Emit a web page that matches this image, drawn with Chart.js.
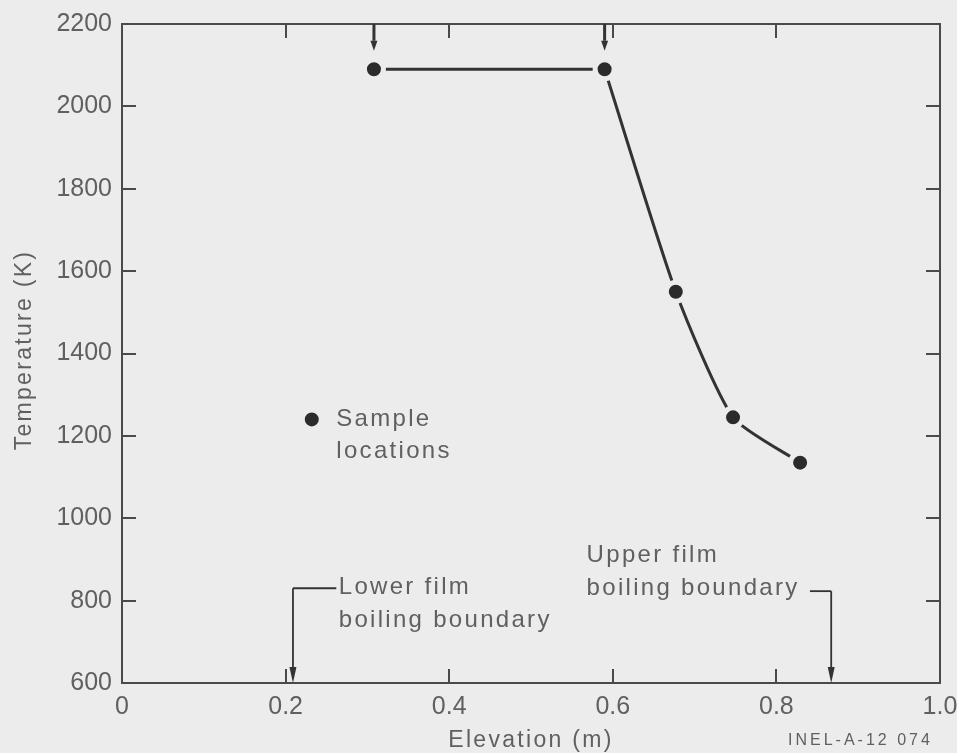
<!DOCTYPE html>
<html>
<head>
<meta charset="utf-8">
<script src="https://cdn.jsdelivr.net/npm/chart.js@4"></script>
<style>
  html, body { margin: 0; padding: 0; background: #ececec; }
  canvas { display: block; }
</style>
</head>
<body>
<canvas id="grafico" width="957" height="753"></canvas>
<script>

// DADOS
const elevacao = [0.308, 0.59, 0.677, 0.747, 0.829];      // m
const temperatura = [2090, 2090, 1550, 1245, 1135];       // K

// ponto da legenda "Sample locations"
const legendaX = [0.232];
const legendaY = [1240];

// setas do topo (em cima dos dois primeiros pontos)
const setasTopoX = [0.308, 0.59];
const setasTopoPonta = 2135;

// limites de ebulição em filme
const limiteInferiorX = 0.209;
const limiteSuperiorX = 0.867;

const ticksX = [0, 0.2, 0.4, 0.6, 0.8, 1.0];
const ticksY = [600, 800, 1000, 1200, 1400, 1600, 1800, 2000, 2200];

const corFundo = "#ececec";
const corEixo = "#4a4a4a";
const corTexto = "#606060";
const corLinha = "#333333";
const fonte = "'Liberation Sans', Arial, sans-serif";

function pares(xs, ys) {
  return xs.map((v, i) => ({ x: v, y: ys[i] }));
}

// texto com espaçamento entre letras (como na figura)
function escrever(ctx, str, px, py, tam, espaco, alinhar) {
  ctx.font = tam + "px " + fonte;
  ctx.letterSpacing = espaco + "px";
  ctx.fillStyle = corTexto;
  ctx.textAlign = alinhar || "left";
  ctx.textBaseline = "middle";
  ctx.fillText(str, px, py);
}

function seta(ctx, px, pyIni, pyPonta, larg, comp) {
  const dir = pyPonta > pyIni ? 1 : -1;
  ctx.beginPath();
  ctx.moveTo(px, pyIni);
  ctx.lineTo(px, pyPonta - dir * comp);
  ctx.stroke();
  ctx.beginPath();
  ctx.moveTo(px, pyPonta);
  ctx.lineTo(px - larg / 2, pyPonta - dir * comp);
  ctx.lineTo(px + larg / 2, pyPonta - dir * comp);
  ctx.closePath();
  ctx.fill();
}

const pluginMarcas = {
  id: "marcas",
  beforeDraw(chart) {
    const ctx = chart.ctx;
    ctx.save();
    ctx.fillStyle = corFundo;
    ctx.fillRect(0, 0, chart.width, chart.height);
    ctx.restore();
  },
  afterDraw(chart) {
    const { ctx, chartArea: a, scales: { x, y } } = chart;
    ctx.save();

    // moldura
    ctx.strokeStyle = corEixo;
    ctx.lineWidth = 2;
    ctx.strokeRect(a.left, a.top, a.right - a.left, a.bottom - a.top);

    // ticks para dentro, nos quatro lados
    const tl = 14;
    ctx.beginPath();
    x.ticks.forEach(t => {
      if (t.value <= 0 || t.value >= 1) return;
      const px = Math.round(x.getPixelForValue(t.value));
      ctx.moveTo(px, a.bottom); ctx.lineTo(px, a.bottom - tl);
      ctx.moveTo(px, a.top); ctx.lineTo(px, a.top + tl);
    });
    y.ticks.forEach(t => {
      if (t.value <= 600 || t.value >= 2200) return;
      const py = Math.round(y.getPixelForValue(t.value));
      ctx.moveTo(a.left, py); ctx.lineTo(a.left + tl, py);
      ctx.moveTo(a.right, py); ctx.lineTo(a.right - tl, py);
    });
    ctx.stroke();

    // setas do topo
    ctx.strokeStyle = corLinha;
    ctx.fillStyle = corLinha;
    ctx.lineWidth = 3;
    setasTopoX.forEach(v => {
      seta(ctx, x.getPixelForValue(v), a.top, y.getPixelForValue(setasTopoPonta), 7, 10);
    });

    // limite inferior
    ctx.lineWidth = 1.8;
    const xi = x.getPixelForValue(limiteInferiorX);
    const yi = y.getPixelForValue(830);
    ctx.beginPath();
    ctx.moveTo(x.getPixelForValue(0.262), yi);
    ctx.lineTo(xi, yi);
    ctx.stroke();
    seta(ctx, xi, yi, a.bottom, 7, 16);

    // limite superior
    const xs = x.getPixelForValue(limiteSuperiorX);
    const ys = y.getPixelForValue(823);
    ctx.beginPath();
    ctx.moveTo(x.getPixelForValue(0.841), ys);
    ctx.lineTo(xs, ys);
    ctx.stroke();
    seta(ctx, xs, ys, a.bottom, 7, 16);

    // textos
    escrever(ctx, "Sample", x.getPixelForValue(0.262), y.getPixelForValue(1240), 24, 2.3);
    escrever(ctx, "locations", x.getPixelForValue(0.262), y.getPixelForValue(1163), 24, 2.3);
    escrever(ctx, "Lower film", x.getPixelForValue(0.265), y.getPixelForValue(833), 24, 2.3);
    escrever(ctx, "boiling boundary", x.getPixelForValue(0.265), y.getPixelForValue(753), 24, 2.3);
    escrever(ctx, "Upper film", x.getPixelForValue(0.568), y.getPixelForValue(911), 24, 2.3);
    escrever(ctx, "boiling boundary", x.getPixelForValue(0.568), y.getPixelForValue(830), 24, 2.3);

    // títulos dos eixos
    escrever(ctx, "Elevation (m)", (a.left + a.right) / 2, 741, 23, 2.3, "center");
    escrever(ctx, "INEL-A-12 074", 788, 741, 16, 3);
    ctx.translate(25, 350);
    ctx.rotate(-Math.PI / 2);
    escrever(ctx, "Temperature (K)", 0, 0, 23, 2.3, "center");

    ctx.restore();
  }
};

const grafico = new Chart(document.getElementById("grafico"), {
  type: "scatter",
  data: {
    datasets: [
      // pontos primeiro: ficam por cima das linhas e abrem o "vão" em volta
      {
        label: "Sample locations",
        data: pares(elevacao, temperatura).concat(pares(legendaX, legendaY)),
        showLine: false,
        backgroundColor: "#2b2b2b",
        borderColor: corFundo,
        borderWidth: 5,
        pointRadius: 9.5
      },
      {
        label: "patamar",
        data: pares(elevacao.slice(0, 2), temperatura.slice(0, 2)),
        showLine: true,
        borderColor: corLinha,
        borderWidth: 3,
        pointRadius: 0
      },
      {
        label: "curva",
        data: pares(elevacao.slice(1), temperatura.slice(1)),
        showLine: true,
        tension: 0.2,
        borderColor: corLinha,
        borderWidth: 3,
        pointRadius: 0
      }
    ]
  },
  options: {
    responsive: false,
    animation: false,
    events: [],
    clip: false,
    layout: { autoPadding: false, padding: { left: 0, right: 17, top: 24, bottom: 0 } },
    plugins: { legend: { display: false }, tooltip: { enabled: false } },
    scales: {
      x: {
        type: "linear",
        min: 0,
        max: 1,
        afterFit: s => { s.height = 70; s.paddingLeft = 0; s.paddingRight = 0; },
        afterBuildTicks: s => { s.ticks = ticksX.map(v => ({ value: v })); },
        grid: { display: false, drawTicks: false },
        border: { display: false },
        ticks: {
          padding: 9,
          color: corTexto,
          font: { family: fonte, size: 25 },
          callback: v => (v === 0 ? "0" : v.toFixed(1))
        }
      },
      y: {
        type: "linear",
        min: 600,
        max: 2200,
        afterFit: s => { s.width = 122; s.paddingTop = 0; s.paddingBottom = 0; },
        afterBuildTicks: s => { s.ticks = ticksY.map(v => ({ value: v })); },
        grid: { display: false, drawTicks: false },
        border: { display: false },
        ticks: {
          padding: 10,
          color: corTexto,
          font: { family: fonte, size: 25 },
          callback: v => String(v)
        }
      }
    }
  },
  plugins: [pluginMarcas]
});
</script>
</body>
</html>
